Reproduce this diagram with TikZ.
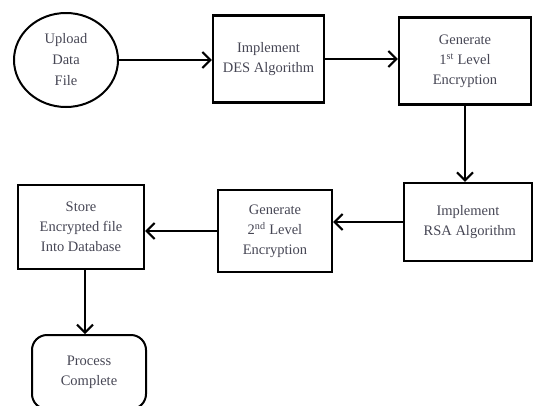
\documentclass[tikz,border=0pt]{standalone}
\usepackage{fontspec}
\setmainfont{Liberation Serif}
\usetikzlibrary{arrows.meta,shapes.geometric}
\definecolor{labelgray}{RGB}{70,70,84}
\tikzset{
  stepbox/.style={draw=black, line width=2.4pt, rectangle, align=center,
    text=labelgray, font=\fontsize{14.5}{20}\selectfont, inner sep=0pt},
  startoval/.style={draw=black, line width=2pt, ellipse, align=center,
    text=labelgray, font=\fontsize{14.5}{21}\selectfont, inner sep=0pt},
  endbox/.style={stepbox, rounded corners=15pt, line width=2pt},
  flow/.style={line width=1.8pt, -{Straight Barb[length=8pt,width=16pt,line width=2pt]}}
}
\begin{document}
\begin{tikzpicture}[x=1pt, y=-1pt]
			%%%%% START %%%%%
			\useasboundingbox (0,0) rectangle (535,405);
			\clip (0,0) rectangle (535,405);
			
			\node[startoval, minimum width=104pt, minimum height=94pt] (upload) at (66,60) {Upload\\Data\\File};
			\node[stepbox, minimum width=111pt, minimum height=87pt] (des) at (268.5,59) {Implement\\DES Algorithm};
			\node[stepbox, minimum width=132pt, minimum height=87pt] (gen1) at (465,61) {Generate\\1\textsuperscript{st} Level\\Encryption};
			
			\node[stepbox, minimum width=128pt, minimum height=78pt] (rsa) at (468,222) {Implement\\\ RSA Algorithm};
			\node[stepbox, minimum width=114pt, minimum height=82pt] (gen2) at (275,231) {Generate\\2\textsuperscript{nd} Level\\Encryption};
			\node[stepbox, minimum width=126pt, minimum height=84pt] (store) at (81,227) {Store\\Encrypted file\\Into Database};
			
			\node[endbox, minimum width=114pt, minimum height=74pt] (done) at (89,372) {Process\\Complete};
			
			\draw[flow] (upload.east) -- (upload.east -| des.west);
			\draw[flow] (des.east) -- (des.east -| gen1.west);
			\draw[flow] (gen1.south) -- (gen1.south |- rsa.north);
			\draw[flow] (rsa.west) -- (rsa.west -| gen2.east);
			\draw[flow] (gen2.west) -- (gen2.west -| store.east);
			\draw[flow] ([xshift=4pt]store.south) -- ([xshift=4pt]store.south |- done.north);
			
			%%%%% END %%%%%
		\end{tikzpicture}
\end{document}
